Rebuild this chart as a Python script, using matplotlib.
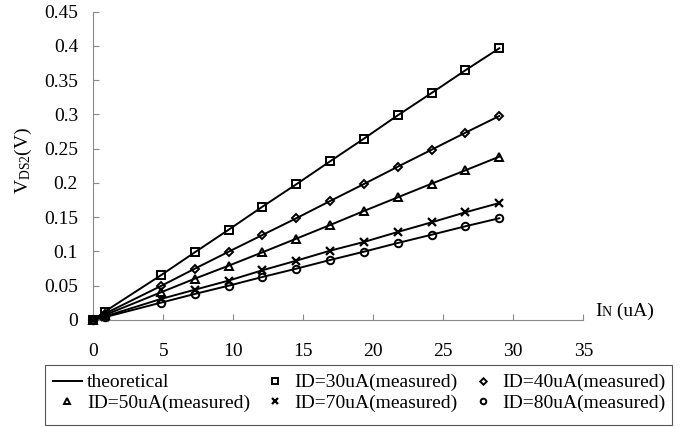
import matplotlib
matplotlib.use("Agg")
import matplotlib.pyplot as plt
from matplotlib.offsetbox import TextArea, HPacker, AnnotationBbox
from matplotlib.patches import Rectangle

plt.rcParams['font.family'] = ['Liberation Serif', 'DejaVu Serif']
plt.rcParams['mathtext.fontset'] = 'custom'
plt.rcParams['mathtext.rm'] = 'Liberation Serif'
plt.rcParams['mathtext.it'] = 'Liberation Serif:italic'

# ---- data ----
i_n = [0, 0.8, 4.83, 7.25, 9.67, 12.08, 14.5, 16.92, 19.33, 21.75, 24.17, 26.58, 29.0]

id30 = [0, 0.012, 0.0653, 0.0988, 0.1318, 0.1654, 0.1981, 0.2317, 0.2647, 0.2988, 0.3314, 0.3645, 0.3966]
id40 = [0, 0.009, 0.0496, 0.0749, 0.0997, 0.1241, 0.1485, 0.1737, 0.1985, 0.2238, 0.2486, 0.2734, 0.2978]
id50 = [0, 0.007, 0.0404, 0.0603, 0.0793, 0.0988, 0.1187, 0.1387, 0.1591, 0.1791, 0.1990, 0.2185, 0.2384]
id70 = [0, 0.005, 0.0307, 0.0442, 0.0575, 0.0726, 0.0866, 0.1012, 0.1139, 0.1285, 0.1426, 0.1572, 0.1708]
id80 = [0, 0.004, 0.0253, 0.0380, 0.0501, 0.0628, 0.0749, 0.0876, 0.0997, 0.1124, 0.1245, 0.1368, 0.1485]

series = [id30, id40, id50, id70, id80]
labels = ['ID=30uA(measured)', 'ID=40uA(measured)', 'ID=50uA(measured)',
          'ID=70uA(measured)', 'ID=80uA(measured)']
markers = ['s', 'D', '^', 'x', 'o']
msizes = [6.0, 4.4, 5.6, 6.0, 5.4]

x_ticks = [0, 5, 10, 15, 20, 25, 30, 35]
y_ticks = [0, 0.05, 0.1, 0.15, 0.2, 0.25, 0.3, 0.35, 0.4, 0.45]
y_tick_labels = ['0', '0.05', '0.1', '0.15', '0.2', '0.25', '0.3', '0.35', '0.4', '0.45']

W, H = 690, 428
fig = plt.figure(figsize=(W / 100, H / 100), dpi=100)
ax = fig.add_axes([93.3 / W, (H - 320) / H, 490 / W, 308.3 / H])

theo_handle = None
for k, y in enumerate(series):
    ln, = ax.plot(i_n, y, '-', color='black', lw=1.4, clip_on=False, zorder=3)
    if theo_handle is None:
        theo_handle = ln

mk_handles = []
for y, m, ms, lab in zip(series, markers, msizes, labels):
    h, = ax.plot(i_n, y, ls='none', marker=m, ms=ms, mfc='none', mec='black',
                 mew=1.4 if m != 'x' else 1.6, clip_on=False, zorder=4, label=lab)
    mk_handles.append(h)

ax.set_xlim(0, 35)
ax.set_ylim(0, 0.45)
ax.set_xticks(x_ticks)
ax.set_xticklabels([str(v) for v in x_ticks])
ax.set_yticks(y_ticks)
ax.set_yticklabels(y_tick_labels)

for s in ['top', 'right']:
    ax.spines[s].set_visible(False)
for s in ['left', 'bottom']:
    ax.spines[s].set_color('#8a8a8a')
    ax.spines[s].set_linewidth(0.8)

ax.tick_params(axis='both', direction='in', length=4.5, width=0.8, color='#8a8a8a',
               labelsize=14, labelcolor='black')
ax.tick_params(axis='x', pad=16.5)
ax.tick_params(axis='y', pad=11)

# y label
fig.text(23 / W, 1 - 160 / H, r'V$_{\mathrm{DS2}}$(V)', rotation=90,
         ha='center', va='center', fontsize=14)

# x label: "I" + small "N" + " (uA)"
box = HPacker(children=[TextArea('I', textprops=dict(fontsize=14)),
                        TextArea('N', textprops=dict(fontsize=10)),
                        TextArea(' (uA)', textprops=dict(fontsize=14))],
              align='baseline', pad=0, sep=0)
ab = AnnotationBbox(box, (595 / W, 1 - 320.5 / H), xycoords='figure fraction',
                    box_alignment=(0, 0), frameon=False, pad=0)
fig.add_artist(ab)

# legend frame drawn explicitly
fig.add_artist(Rectangle((45 / W, 1 - 425 / H), 627 / W, 60 / H, transform=fig.transFigure,
                         facecolor='white', edgecolor='#555555', linewidth=0.8, zorder=1))

# legend (column-major fill: col1 = theoretical, ID50; col2 = ID30, ID70; col3 = ID40, ID80)
handles = [theo_handle, mk_handles[2], mk_handles[0], mk_handles[3], mk_handles[1], mk_handles[4]]
leg_labels = ['theoretical', labels[2], labels[0], labels[3], labels[1], labels[4]]
leg = fig.legend(handles, leg_labels, loc='upper left',
                 bbox_to_anchor=(45 / W, 1 - 366 / H), bbox_transform=fig.transFigure,
                 ncol=3, borderaxespad=0, fontsize=14, handlelength=1.5,
                 handletextpad=0.25, columnspacing=0.55, labelspacing=0.15,
                 frameon=False, markerscale=0.75, borderpad=0.4)
leg.set_zorder(2)

fig.savefig('out.png', dpi=100)
